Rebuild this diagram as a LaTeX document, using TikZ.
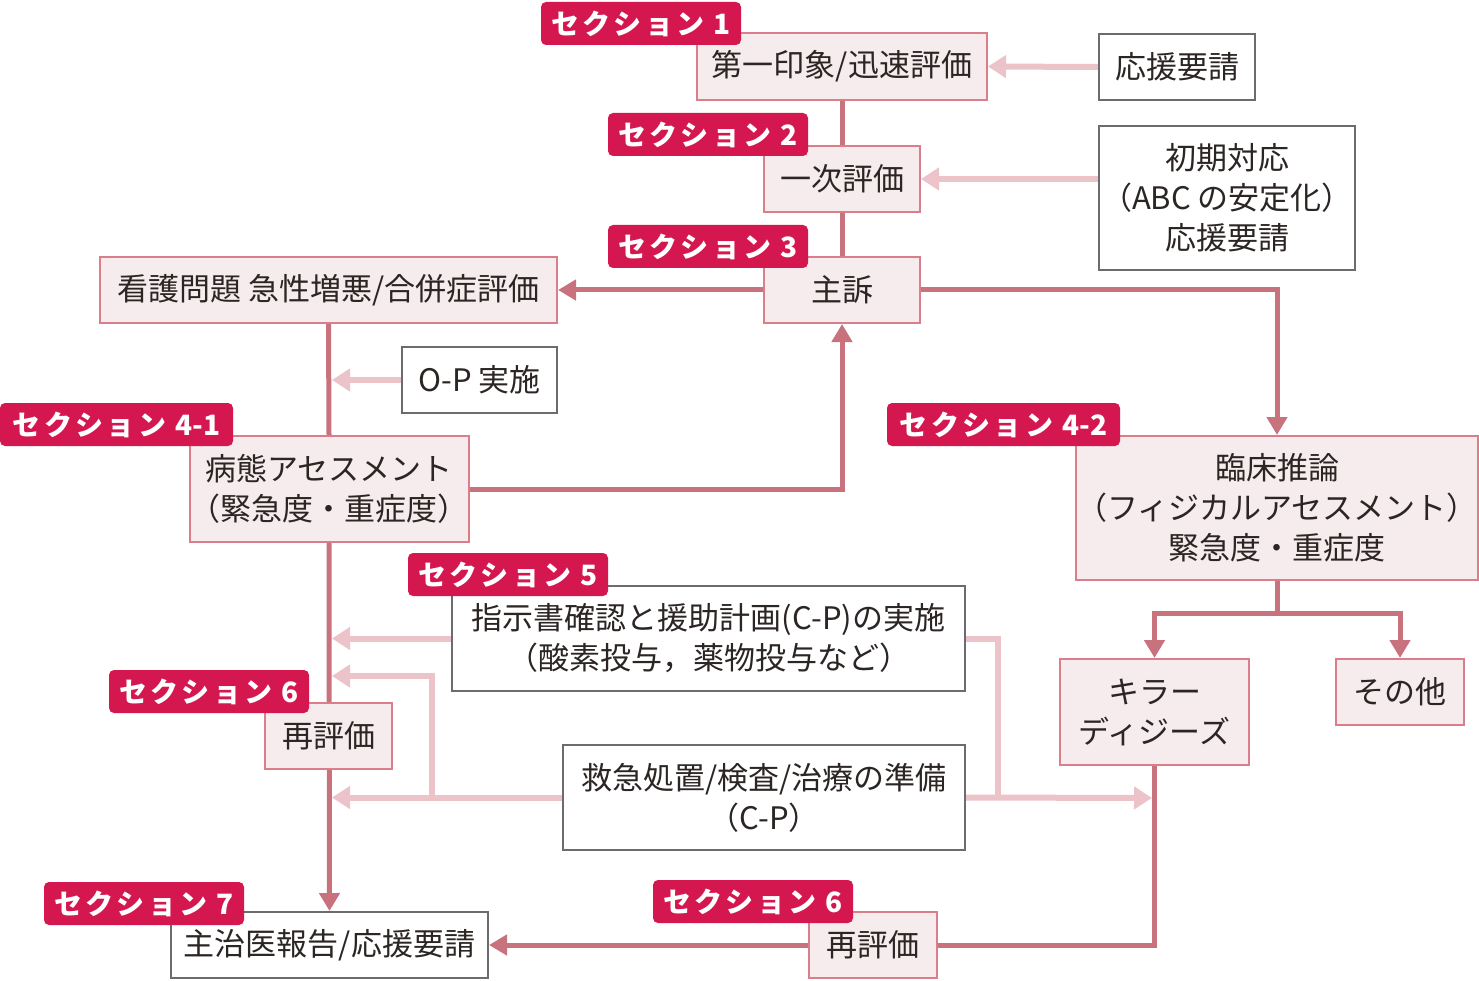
\documentclass[tikz,border=0pt]{standalone}
\usepackage{fontspec}
\setmainfont{Noto Sans CJK JP}
\usetikzlibrary{arrows.meta,backgrounds}
\definecolor{pinkfill}{HTML}{F6EBED}
\definecolor{pinkborder}{HTML}{DA7E8B}
\definecolor{darkline}{HTML}{C8727E}
\definecolor{lightline}{HTML}{ECC3C8}
\definecolor{secred}{HTML}{D4174F}
\definecolor{graybox}{HTML}{6C6B70}
\definecolor{textc}{HTML}{2B2523}
\newcommand{\sectxt}[1]{{\addfontfeature{LetterSpace=12}セクション}\hspace{9pt}#1}
\begin{document}
\begin{tikzpicture}[x=1pt,y=-1pt,
  box/.style={line width=2pt, inner sep=0pt, align=center, text=textc,
    font=\fontsize{31}{40}\selectfont},
  pbox/.style={box, draw=pinkborder, fill=pinkfill},
  gbox/.style={box, draw=graybox, fill=white},
  sec/.style={fill=secred, rounded corners=5pt, text=white, inner sep=0pt,
    minimum height=43pt, minimum width=200pt,
    font=\bfseries\fontsize{28}{28}\selectfont},
  dk/.style={draw=darkline, line width=5pt},
  dkarr/.style={dk, -{Triangle[width=20pt,length=18pt]}},
  lt/.style={draw=lightline, line width=6pt},
  ltarr/.style={lt, -{Triangle[width=22pt,length=18pt]}}]
\useasboundingbox (0,0) rectangle (1479,981);

% boxes
\node[pbox, minimum width=290pt, minimum height=67pt] (inshou) at (842,66.5) {第一印象/迅速評価};
\node[gbox, minimum width=156pt, minimum height=66pt] (oen) at (1177,67) {応援要請};
\node[pbox, minimum width=156pt, minimum height=66pt] (ichiji) at (842,179) {一次評価};
\node[gbox, minimum width=256pt, minimum height=144pt] (shoki) at (1227,198) {初期対応\\（ABC の安定化）\\応援要請};
\node[pbox, minimum width=156pt, minimum height=66pt] (shuso) at (842,290) {主訴};
\node[pbox, minimum width=457pt, minimum height=66pt] (kango) at (328.5,290) {看護問題 急性増悪/合併症評価};
\node[gbox, minimum width=155pt, minimum height=66pt] (op) at (479.5,380) {O-P 実施};
\node[pbox, minimum width=278pt, minimum height=106pt] (byotai) at (329,489) {病態アセスメント\\（緊急度・重症度）};
\node[pbox, minimum width=402pt, minimum height=144pt] (rinsho) at (1277,508) {臨床推論\\（フィジカルアセスメント）\\緊急度・重症度};
\node[pbox, minimum width=189pt, minimum height=106pt] (killer) at (1154.5,712) {キラー\\ディジーズ};
\node[pbox, minimum width=128pt, minimum height=66pt] (sonota) at (1400,692) {その他};
\node[gbox, minimum width=513pt, minimum height=105pt] (shiji) at (708.5,638.5) {指示書確認と援助計画(C-P)の実施\\（酸素投与，薬物投与など）};
\node[pbox, minimum width=127pt, minimum height=66pt] (saihyoka1) at (328.5,736) {再評価};
\node[gbox, minimum width=402pt, minimum height=105pt] (kyukyu) at (764,797.5) {救急処置/検査/治療の準備\\（C-P）};
\node[pbox, minimum width=128pt, minimum height=66pt] (saihyoka2) at (873,945) {再評価};
\node[gbox, minimum width=317pt, minimum height=66pt] (shujii) at (329.5,945) {主治医報告/応援要請};

% section labels
\node[sec] (s1) at (641,23.5) {\sectxt{1}};
\node[sec] (s2) at (708,134.5) {\sectxt{2}};
\node[sec] (s3) at (708,246.5) {\sectxt{3}};
\node[sec, minimum width=233pt] (s41) at (116.5,424.5) {\sectxt{4-1}};
\node[sec, minimum width=233pt] (s42) at (1003.5,424.5) {\sectxt{4-2}};
\node[sec] (s5) at (508,574.5) {\sectxt{5}};
\node[sec] (s6a) at (209,691.5) {\sectxt{6}};
\node[sec] (s6b) at (753,901.5) {\sectxt{6}};
\node[sec] (s7) at (144,903.5) {\sectxt{7}};

% helper coordinates
\coordinate (lvx) at (332,0);
\coordinate (br) at (432,798);
\coordinate (br2) at (332,676);
\coordinate (jr) at (998,798);
\coordinate (kvl) at (1152,798);
\coordinate (split) at (1277,613);

\begin{scope}[on background layer]
% dark connectors
\draw[dk] (inshou.south) -- (ichiji.north);
\draw[dk] (ichiji.south) -- (shuso.north);
\draw[dkarr] (shuso.west) -- (kango.east);
\draw[dkarr] (shuso.east) -| (rinsho.north);
\draw[dk] (kango.south) -- (byotai.north);
\draw[dkarr] (byotai.east) -| (shuso.south);
\draw[dk] (rinsho.south) -- (split);
\draw[dkarr] (split) -| (killer.north);
\draw[dkarr] (split) -| (sonota.north);
\draw[dkarr] (byotai.south) -- (shujii.north);
\draw[dk] (killer.south) |- (saihyoka2.east);
\draw[dkarr] (saihyoka2.west) -- (shujii.east);
% light connectors
\draw[ltarr] (oen.west) -- (inshou.east);
\draw[ltarr] (ichiji.east -| shoki.west) -- (ichiji.east);
\draw[ltarr] (op.west) -- (op.west -| lvx);
\draw[ltarr] (shiji.west) -- (shiji.west -| lvx);
\draw[ltarr] (kyukyu.west) -- (kyukyu.west -| lvx);
\draw[ltarr] (br) |- (br2);
\draw[lt] (shiji.east) -| (jr);
\draw[ltarr] (kyukyu.east) -- (kvl);
\end{scope}
\end{tikzpicture}
\end{document}
